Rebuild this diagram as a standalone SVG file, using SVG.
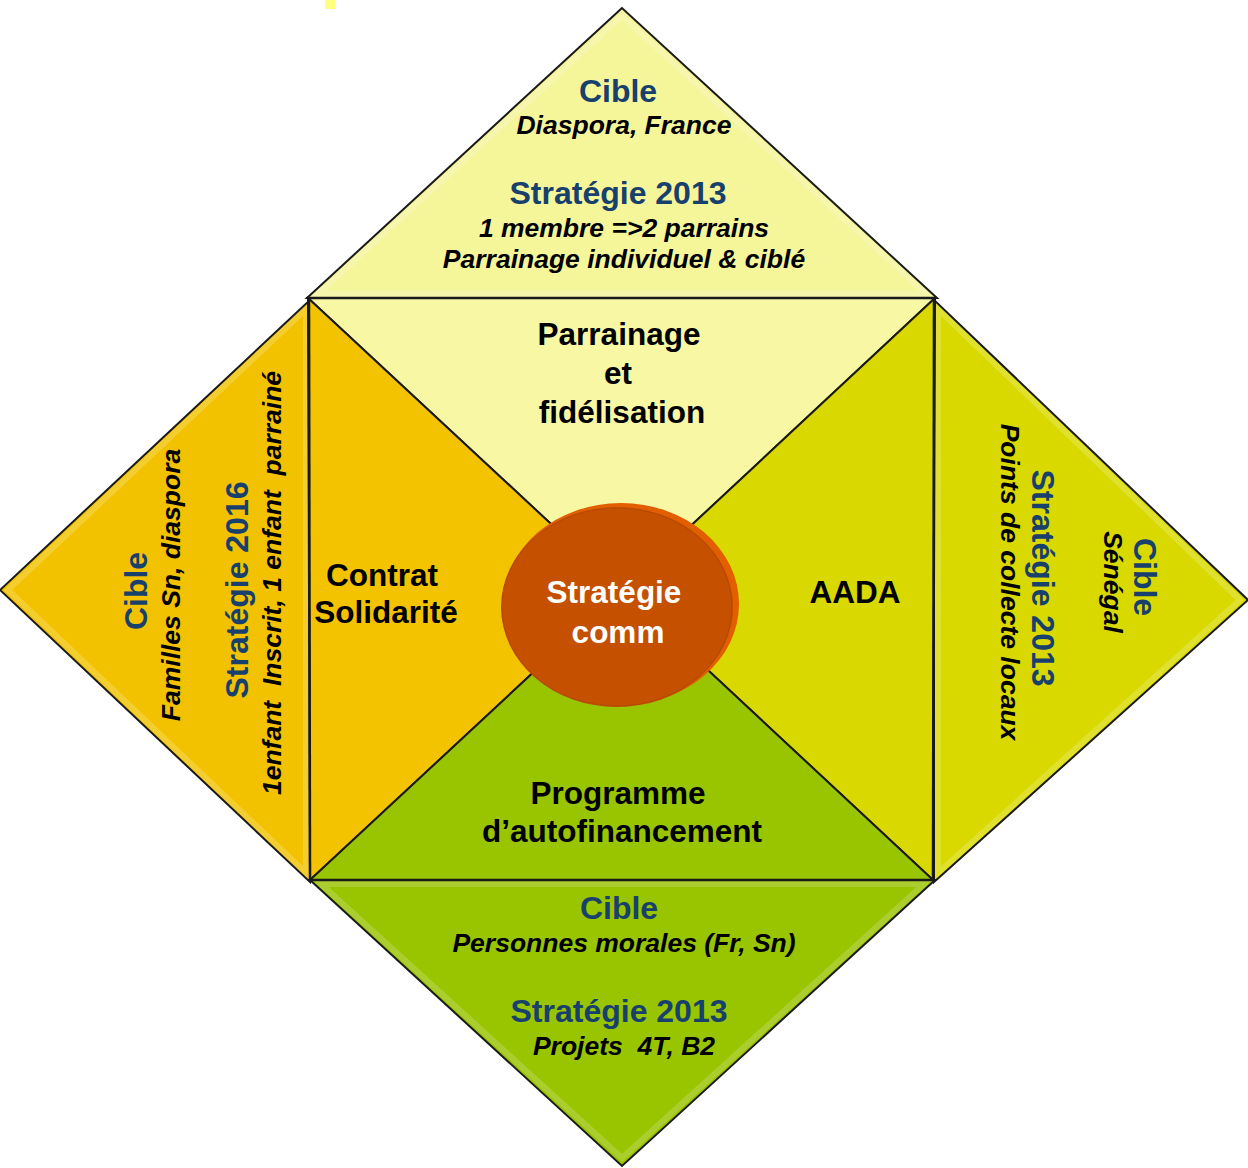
<svg xmlns="http://www.w3.org/2000/svg" width="1248" height="1168" viewBox="0 0 1248 1168">
<style>
.tri{stroke:#1a1a1a;stroke-width:2;stroke-linejoin:miter}
.hd{font-family:"Liberation Sans",Arial,sans-serif;font-weight:bold;font-size:32px;fill:#17406d;text-anchor:middle}
.it{font-family:"Liberation Sans",Arial,sans-serif;font-weight:bold;font-style:italic;font-size:26.5px;fill:#000;text-anchor:middle;white-space:pre}
.bk{font-family:"Liberation Sans",Arial,sans-serif;font-weight:bold;font-size:31.5px;fill:#000;text-anchor:middle}
.wh{font-family:"Liberation Sans",Arial,sans-serif;font-weight:bold;font-size:31.5px;fill:#fff;text-anchor:middle}
.bev{fill:none;stroke:#ffffff;stroke-opacity:0.18;stroke-width:6}
</style>
<rect width="1248" height="1168" fill="#fff"/>
<rect x="325" y="0" width="10" height="9" fill="#ffff80"/>

<g id="outer-top">
<polygon class="tri" points="622,8 307,298 937,298" fill="#f5f59a"/>
<polygon class="bev" points="622,16 318,294 926,294"/>
<text class="hd" x="618" y="102">Cible</text>
<text class="it" x="624" y="134">Diaspora, France</text>
<text class="hd" x="618" y="204">Stratégie 2013</text>
<text class="it" x="624" y="237">1 membre =&gt;2 parrains</text>
<text class="it" x="624" y="268">Parrainage individuel &amp; ciblé</text>
</g>

<g id="outer-left">
<polygon class="tri" points="310,300 0,590 310,882" fill="#f2c200"/>
<polygon class="bev" points="306,309 8,590 306,873"/>
<text class="hd" transform="translate(147,591) rotate(-90)">Cible</text>
<text class="it" transform="translate(180,585) rotate(-90)">Familles Sn, diaspora</text>
<text class="hd" transform="translate(248,590) rotate(-90)">Stratégie 2016</text>
<text class="it" transform="translate(281,583) rotate(-90)">1enfant  Inscrit, 1 enfant  parrainé</text>
</g>

<g id="outer-right">
<polygon class="tri" points="934,300 1248,600 934,882" fill="#d9d900"/>
<polygon class="bev" points="938,309 1240,600 938,873"/>
<text class="hd" transform="translate(1134,577) rotate(90)">Cible</text>
<text class="it" transform="translate(1104,582) rotate(90)">Sénégal</text>
<text class="hd" transform="translate(1032,578) rotate(90)">Stratégie 2013</text>
<text class="it" transform="translate(1001,582) rotate(90)">Points de collecte locaux</text>
</g>

<g id="outer-bottom">
<polygon class="tri" points="310,880 935,880 622,1166" fill="#99c400"/>
<polygon class="bev" points="321,884 924,884 622,1158"/>
<text class="hd" x="619" y="919">Cible</text>
<text class="it" x="624" y="952">Personnes morales (Fr, Sn)</text>
<text class="hd" x="619" y="1022">Stratégie 2013</text>
<text class="it" x="624" y="1055">Projets  4T, B2</text>
</g>

<g id="inner-top">
<polygon class="tri" points="308,298 935,298 622,590" fill="#f7f7a4"/>
<text class="bk" x="619" y="345">Parrainage</text>
<text class="bk" x="618" y="384">et</text>
<text class="bk" x="622" y="423">fidélisation</text>
</g>

<g id="inner-left">
<polygon class="tri" points="308,298 622,590 310,880" fill="#f3c300"/>
<text class="bk" x="382" y="586">Contrat</text>
<text class="bk" x="386" y="623">Solidarité</text>
</g>

<g id="inner-right">
<polygon class="tri" points="935,298 622,590 933,880" fill="#d9d800"/>
<text class="bk" x="855" y="603">AADA</text>
</g>

<g id="inner-bottom">
<polygon class="tri" points="310,880 622,590 933,880" fill="#99c400"/>
<text class="bk" x="618" y="804">Programme</text>
<text class="bk" x="622" y="842">d’autofinancement</text>
</g>

<g id="connectors">
<line x1="308" y1="298" x2="935" y2="298" stroke="#1a1a1a" stroke-width="2.5"/>
<line x1="310" y1="880" x2="933" y2="880" stroke="#1a1a1a" stroke-width="2.5"/>
<line x1="309" y1="298" x2="310" y2="880" stroke="#1a1a1a" stroke-width="2.5"/>
<line x1="934" y1="298" x2="933" y2="880" stroke="#1a1a1a" stroke-width="2.5"/>
</g>

<g id="center">
<ellipse cx="621" cy="604" rx="118" ry="101" fill="#e25f00"/>
<ellipse cx="617" cy="607" rx="116" ry="100" fill="#c45000"/>
<ellipse cx="617" cy="607" rx="115" ry="99" fill="none" stroke="#a84400" stroke-width="1" stroke-opacity="0.6"/>
<text class="wh" x="614" y="603">Stratégie</text>
<text class="wh" x="618" y="643">comm</text>
</g>
</svg>
